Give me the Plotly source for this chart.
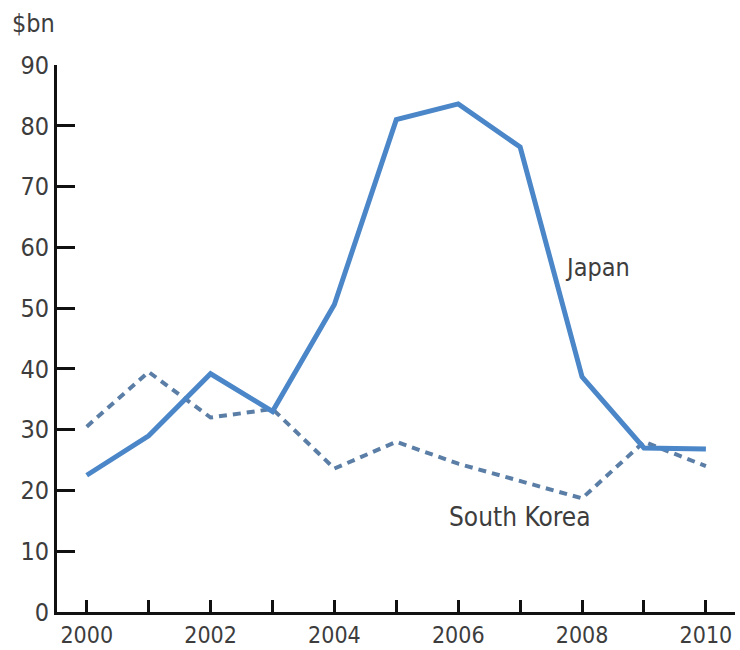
import plotly.graph_objects as go

years = [2000, 2001, 2002, 2003, 2004, 2005, 2006, 2007, 2008, 2009, 2010]
japan = [22.5, 29.0, 39.2, 33.0, 50.6, 81.0, 83.6, 76.5, 38.7, 27.0, 26.8]
south_korea = [30.5, 39.5, 32.0, 33.4, 23.6, 28.0, 24.4, 21.5, 18.7, 28.0, 24.0]

y_ticks = [0, 10, 20, 30, 40, 50, 60, 70, 80, 90]
x_tick_labels = {2000: "2000", 2002: "2002", 2004: "2004", 2006: "2006", 2008: "2008", 2010: "2010"}

FONT = "DejaVu Sans Condensed, Liberation Sans Narrow, sans-serif"
TEXT = "#3d3d3d"

fig = go.Figure()
fig.add_trace(go.Scatter(
    x=years, y=south_korea, mode="lines", name="South Korea",
    line=dict(color="#5b7ea6", width=4, dash="8px,6px"),
))
fig.add_trace(go.Scatter(
    x=years, y=japan, mode="lines", name="Japan",
    line=dict(color="#4a86c8", width=5),
))

fig.add_annotation(x=2007.7, y=56.7, text="Japan", showarrow=False,
                   xanchor="left", yanchor="middle",
                   font=dict(family=FONT, size=25, color=TEXT))
fig.add_annotation(x=2005.82, y=15.7, text="South Korea", showarrow=False,
                   xanchor="left", yanchor="middle",
                   font=dict(family=FONT, size=26, color=TEXT))
fig.add_annotation(xref="paper", yref="paper", x=-0.07, y=1.045,
                   text="$bn", showarrow=False, xanchor="left", yanchor="bottom",
                   font=dict(family=FONT, size=25, color=TEXT))

fig.update_layout(
    width=740, height=650,
    margin=dict(l=57, r=5, t=65, b=38, autoexpand=False),
    paper_bgcolor="white", plot_bgcolor="white",
    showlegend=False,
    font=dict(family=FONT, size=25, color=TEXT),
)
fig.update_xaxes(
    range=[1999.52, 2010.47],
    tickmode="array", tickvals=years,
    ticktext=[x_tick_labels.get(y, "") for y in years],
    ticks="inside", ticklen=12, tickwidth=3, tickcolor="#111",
    showline=True, linewidth=3, linecolor="#111",
    showgrid=False, zeroline=False, automargin=False,
    tickfont=dict(family=FONT, size=23, color=TEXT),
)
fig.update_yaxes(
    range=[0, 90],
    tickmode="array", tickvals=y_ticks,
    ticks="inside", ticklen=18, tickwidth=3, tickcolor="#111",
    showline=True, linewidth=3, linecolor="#111",
    showgrid=False, zeroline=False, automargin=False,
    tickfont=dict(family=FONT, size=25, color=TEXT),
)

fig.write_html("out.html")
